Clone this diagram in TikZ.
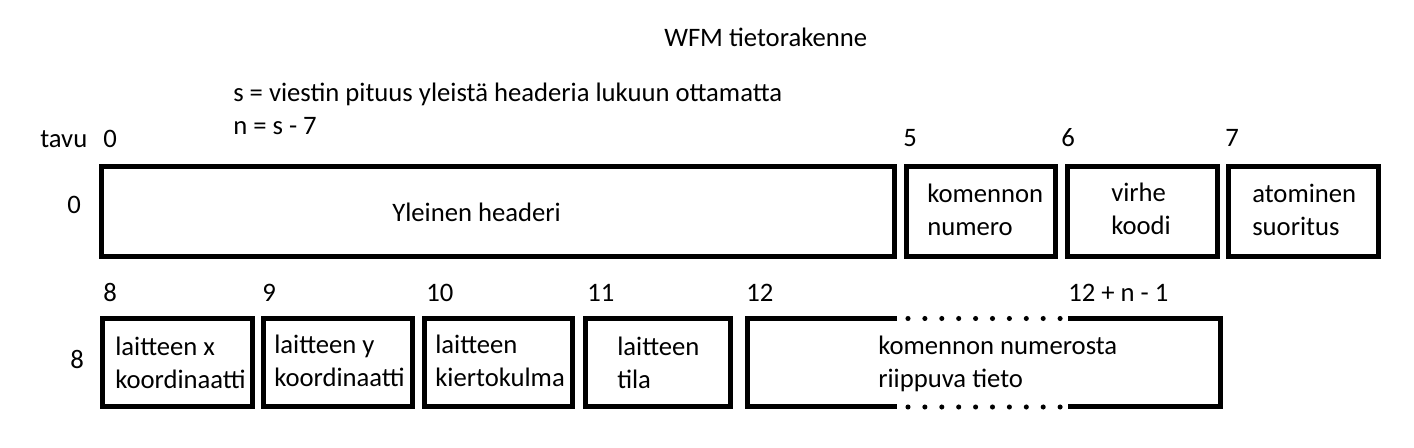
\documentclass[tikz,border=0pt]{standalone}
\usepackage{fontspec}
\setmainfont{Carlito}
\begin{document}
\begin{tikzpicture}[x=0.75pt,y=-0.75pt,
  txt/.style={anchor=base west,inner sep=0pt,font=\fontsize{20}{24.75}\selectfont,align=left},
  kehys/.style={line width=3.75pt,line join=miter}]
\useasboundingbox (0,0) rectangle (1414,448);
\node[txt] (otsikko) at (664,47){WFM tietorakenne};
\node[txt] (selite1) at (233,102){s = viestin pituus yleistä headeria lukuun ottamatta};
\node[txt] (selite2) at (233,135){n = s - 7};
\node[txt] (tavu) at (40,148){tavu};
% rivi 0
\node[txt] (t0) at (103,148){0};
\node[txt] (t5) at (903,147){5};
\node[txt] (t6) at (1061,147){6};
\node[txt] (t7) at (1225,147){7};
\node[txt] (rivi0) at (67,214){0};
\draw[kehys] (101,166.5) rectangle (894,257);
\draw[kehys] (906.5,166.5) rectangle (1055.5,257);
\draw[kehys] (1067.5,166.5) rectangle (1217.5,257);
\draw[kehys] (1228.5,166.5) rectangle (1378,257);
\node[txt] (header) at (392,222){Yleinen headeri};
\node[txt] (komento) at (927,236){komennon\\numero};
\node[txt] (virhe) at (1111,235){virhe\\koodi};
\node[txt] (atom) at (1252,236){atominen\\suoritus};
% rivi 8
\node[txt] (t8) at (103,302){8};
\node[txt] (t9) at (262,302){9};
\node[txt] (t10) at (426,302){10};
\node[txt] (t11) at (587,302){11};
\node[txt] (t12) at (746,302){12};
\node[txt] (tn) at (1068,302){12 + n - 1};
\node[txt] (rivi8) at (70,369){8};
\draw[kehys] (102.5,318.5) rectangle (252.5,407);
\draw[kehys] (263.5,318.5) rectangle (412.5,407);
\draw[kehys] (424.5,318.5) rectangle (572.5,407);
\draw[kehys] (585.5,318.5) rectangle (730.5,407);
\draw[kehys] (897,318.5) -- (747.5,318.5) -- (747.5,407) -- (897,407);
\draw[kehys] (1068,407) -- (1220.5,407) -- (1220.5,318.5) -- (1068,318.5);
\foreach \i in {0,...,9}{
  \fill (908+16.9*\i,318.5) circle (1.9pt);
  \fill (908+16.9*\i,407) circle (1.9pt);
}
\node[txt] (xkoord) at (115,389){laitteen x\\koordinaatti};
\node[txt] (ykoord) at (274,387){laitteen y\\koordinaatti};
\node[txt] (kulma) at (435,387){laitteen\\kiertokulma};
\node[txt] (tila) at (617,389){laitteen\\tila};
\node[txt] (tieto) at (878,388){komennon numerosta\\riippuva tieto};
\end{tikzpicture}
\end{document}
